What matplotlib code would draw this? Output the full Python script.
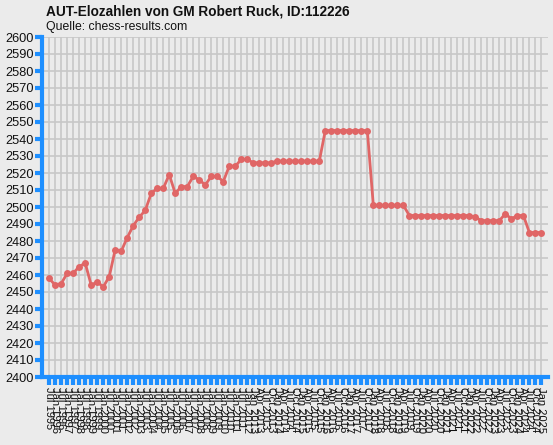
import matplotlib
matplotlib.use("Agg")
from matplotlib import pyplot as plt

# rating list dates: half-yearly first, then quarterly
dates = []
for y in range(1995, 2013):
    if y > 1995:
        dates.append("Jan " + str(y))
    if y < 2012:
        dates.append("Jul " + str(y))
for y in range(2013, 2026):
    for m in ["Jan", "Apr", "Jul", "Oct"]:
        if y == 2025 and m != "Jan":
            continue
        dates.append(m + " " + str(y))

elo = [2458, 2454, 2455, 2461, 2461, 2465, 2467, 2454, 2456, 2453,
       2459, 2475, 2474, 2482, 2489, 2494, 2498, 2508, 2511, 2511,
       2519, 2508, 2512, 2512, 2518, 2516, 2513, 2518, 2518, 2515,
       2524, 2524, 2528, 2528, 2526, 2526, 2526, 2526,
       2527, 2527, 2527, 2527, 2527, 2527, 2527, 2527,
       2545, 2545, 2545, 2545, 2545, 2545, 2545, 2545,
       2501, 2501, 2501, 2501, 2501, 2501,
       2495, 2495, 2495, 2495, 2495, 2495, 2495, 2495, 2495, 2495, 2495,
       2494, 2492, 2492, 2492, 2492, 2496, 2493, 2495, 2495,
       2485, 2485, 2485]

y_ticks = list(range(2400, 2601, 10))

plt.rcParams['font.family'] = ['Liberation Sans', 'DejaVu Sans']
bg = '#ebebeb'
blue = '#1e8fff'

fig = plt.figure(figsize=(5.53, 4.45), dpi=100, facecolor=bg)
ax = fig.add_axes([42 / 553, 68 / 445, 506 / 553, 340 / 445], facecolor=bg)

x = list(range(len(elo)))
ax.plot(x, elo, color='#e06666', linewidth=2.0, marker='o', markersize=5,
        markeredgewidth=0, zorder=3)

ax.set_xlim(-1.2, 83.1)
ax.set_ylim(2400, 2600)
ax.set_yticks(y_ticks)
ax.set_xticks(x)
ax.set_xticklabels(dates[:len(x)], rotation=-90, fontsize=8, color='#111111')
ax.tick_params(axis='y', labelsize=9.2, labelcolor='#111111', color=blue,
               width=3, length=5, pad=1)
ax.tick_params(axis='x', color=blue, width=3, length=6, pad=1)

ax.grid(True, color='#c8c8c8', linewidth=1.2)
ax.set_axisbelow(True)
for s in ['top', 'right']:
    ax.spines[s].set_visible(False)
for s in ['left', 'bottom']:
    ax.spines[s].set_color(blue)
    ax.spines[s].set_linewidth(3)

fig.text(46 / 553, 1 - 11 / 445, 'AUT-Elozahlen von GM Robert Ruck, ID:112226',
         fontsize=9.8, fontweight='bold', va='center', ha='left', color='#111111')
fig.text(46 / 553, 1 - 27 / 445, 'Quelle: chess-results.com',
         fontsize=8.8, va='center', ha='left', color='#111111')

fig.savefig('out.png', dpi=100, facecolor=bg)
